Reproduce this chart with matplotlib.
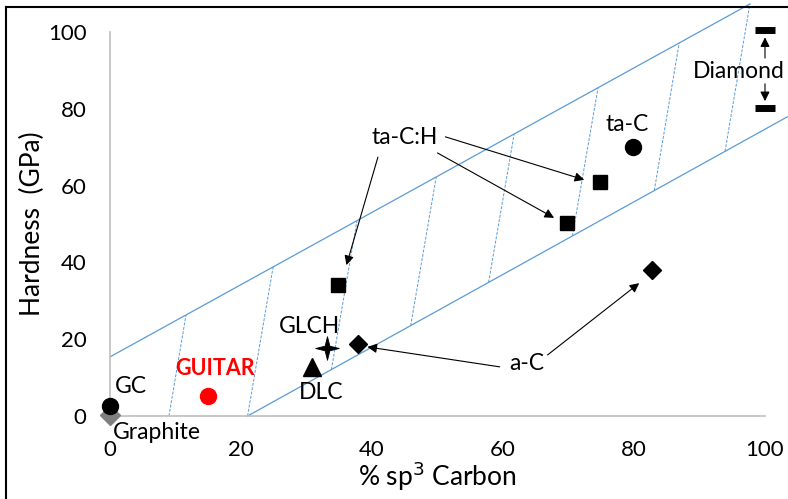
import matplotlib.pyplot as plt
from matplotlib.lines import Line2D
from matplotlib.path import Path

plt.rcParams['font.family'] = ['Lato', 'DejaVu Sans']

# material points (% sp3, hardness GPa)
gc = (0, 2.6)
graphite = (0, 0.3)
guitar = (15, 5.2)
dlc = (30.8, 12.8)
glch = (33.2, 17.7)
ac_x = [37.8, 82.8]
ac_y = [18.8, 38.0]
tach_x = [34.8, 69.8, 74.8]
tach_y = [34.1, 50.3, 61.0]
tac = (79.9, 70.0)
diamond_x = [100, 100]
diamond_y = [100.5, 80.2]

# band boundaries
upper_x = [0, 97.7]
upper_y = [15.4, 107.3]
lower_x = [21, 103.4]
lower_y = [0, 77.9]

# hatch lines: bottom (on lower edge) and top (on upper edge)
hatch_x0 = [9.0, 21.0, 33.8, 45.9, 57.8, 70.6, 83.1, 93.9]
hatch_y0 = [0.0, 0.0, 12.1, 23.5, 34.8, 46.9, 58.7, 68.9]
hatch_x1 = [11.6, 24.9, 37.7, 49.8, 61.7, 74.5, 86.9, 97.7]
hatch_y1 = [26.3, 38.8, 50.8, 62.2, 73.4, 85.4, 97.1, 107.3]

# arrows: (tail, head)
tach_arrows = [((40.9, 67.4), (36.1, 39.3)),
               ((50.0, 68.5), (67.8, 51.6)),
               ((51.2, 72.7), (72.4, 61.5))]
ac_arrows = [((59.5, 12.8), (39.3, 18.0)),
             ((66.8, 15.9), (80.8, 34.6))]
diamond_arrows = [((100, 93.2), (100, 98.6)),
                  ((100, 86.5), (100, 82.0))]

blue = '#5B9BD5'

# thin four-pointed star for GLCH
r = 0.2
star = Path([(0, 1), (r, r), (1, 0), (r, -r), (0, -1), (-r, -r), (-1, 0), (-r, r), (0, 1)],
            [Path.MOVETO] + [Path.LINETO] * 7 + [Path.CLOSEPOLY])

fig = plt.figure(figsize=(7.88, 4.99), dpi=100)
ax = fig.add_axes([0.1396, 0.1663, 0.9708 - 0.1396, 0.9359 - 0.1663])
ax.set_xlim(0, 100)
ax.set_ylim(0, 100)

# band
ax.plot(upper_x, upper_y, color=blue, lw=0.9, clip_on=False)
ax.plot(lower_x, lower_y, color=blue, lw=0.9, clip_on=False)
for x0, y0, x1, y1 in zip(hatch_x0, hatch_y0, hatch_x1, hatch_y1):
    ax.plot([x0, x1], [y0, y1], color=blue, lw=0.7, ls=(0, (3, 1.5)), clip_on=False)

# markers
ax.plot(*graphite, 'D', color='#7F7F7F', ms=10, clip_on=False, zorder=5)
ax.plot(*gc, 'o', color='black', ms=11.5, clip_on=False, zorder=5)
ax.plot(*guitar, 'o', color='#FF0000', ms=11.5, zorder=5)
ax.plot(*dlc, '^', color='black', ms=12.5, zorder=5)
ax.plot(*glch, marker=star, color='black', ms=17, mew=0.6, zorder=5)
ax.plot(ac_x, ac_y, 'D', color='black', ms=9.5, ls='none', zorder=5)
ax.plot(tach_x, tach_y, 's', color='black', ms=10, ls='none', zorder=5)
ax.plot(*tac, 'o', color='black', ms=11.5, zorder=5)
ax.plot(diamond_x, diamond_y, '_', color='black', ms=14, mew=5, ls='none',
        clip_on=False, zorder=5)

# labels
fs = 16.5
ax.text(0.8, 7.8, 'GC', fontsize=fs, ha='left', va='center')
ax.text(0.4, -4.4, 'Graphite', fontsize=fs, ha='left', va='center')
ax.text(16, 12.4, 'GUITAR', fontsize=15.5, fontweight='bold', color='#FF0000',
        ha='center', va='center')
ax.text(32.2, 6.0, 'DLC', fontsize=fs, ha='center', va='center')
ax.text(30.5, 23.4, 'GLCH', fontsize=fs, ha='center', va='center')
ax.text(63.6, 13.8, 'a-C', fontsize=fs, ha='center', va='center')
ax.text(45.0, 72.4, 'ta-C:H', fontsize=fs, ha='center', va='center')
ax.text(79.0, 75.8, 'ta-C', fontsize=fs, ha='center', va='center')
ax.text(96.0, 89.6, 'Diamond', fontsize=fs, ha='center', va='center')

for tail, head in tach_arrows + ac_arrows + diamond_arrows:
    ax.annotate('', xy=head, xytext=tail,
                arrowprops=dict(arrowstyle='-|>', color='black', lw=0.8,
                                mutation_scale=14, shrinkA=0, shrinkB=0),
                annotation_clip=False)

# axes styling
for s in ['top', 'right']:
    ax.spines[s].set_visible(False)
for s in ['left', 'bottom']:
    ax.spines[s].set_color('#BFBFBF')
    ax.spines[s].set_linewidth(1.2)
ax.set_xticks(range(0, 101, 20))
ax.set_yticks(range(0, 101, 20))
ax.tick_params(length=0, labelsize=16, pad=17)
ax.set_xlabel('% sp$^3$ Carbon', fontsize=19, labelpad=0)
ax.set_ylabel('Hardness  (GPa)', fontsize=19, labelpad=2)

# figure frame (top and left edges)
fig.add_artist(Line2D([6 / 788, 6 / 788], [0, 1 - 7 / 499], color='black', lw=1.5))
fig.add_artist(Line2D([6 / 788, 1], [1 - 7 / 499, 1 - 7 / 499], color='black', lw=1.5))

fig.savefig('out.png', dpi=100)
